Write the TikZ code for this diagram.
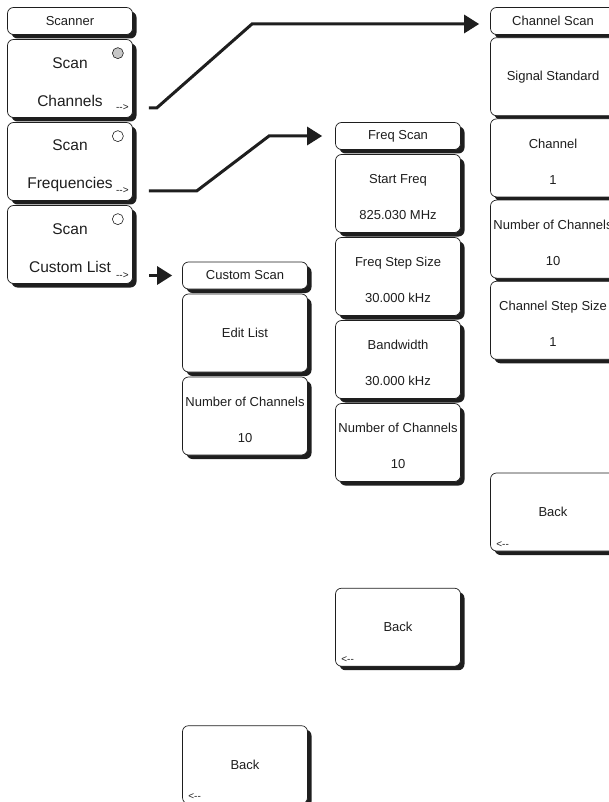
\documentclass[tikz,border=0pt]{standalone}
\usepackage{fontspec}
\setmainfont{Liberation Sans}
\usetikzlibrary{arrows.meta,positioning,shadows}
\definecolor{cink}{HTML}{1E1E1E}
\newcommand\kup{\rule{0pt}{17pt}}
\newcommand\kupbig{\rule{0pt}{19pt}}
\tikzset{
  >={Triangle[length=15pt,width=18pt]},
  softkey/.style={rounded corners=6pt,draw=cink,fill=white,line width=0.7pt,
              minimum width=125pt,minimum height=78pt,inner sep=0pt,align=center,
              text=cink,font=\fontsize{13}{36}\selectfont,
              drop shadow={shadow xshift=4pt,shadow yshift=-4pt,fill=cink,opacity=1}},
  bigkey/.style={softkey,font=\fontsize{15.5}{38}\selectfont},
  ttl/.style={softkey,minimum height=27pt},
  radio/.style={circle,draw=cink,line width=0.6pt,fill=white,minimum size=11pt,inner sep=0pt},
  hint/.style={font=\fontsize{10}{12}\selectfont,text=cink,inner sep=0pt},
  flow/.style={->,line width=3pt,draw=cink},
}

\begin{document}
\begin{tikzpicture}[x=1pt,y=-1pt,node distance=4.3pt]
\useasboundingbox (0,0) rectangle (608,802);

% ================= Scanner menu =================
\node[ttl] (scanner) at (70,21) {Scanner};
\node[bigkey,below=of scanner] (schan) {\kupbig Scan\\Channels};
\node[bigkey,below=of schan] (sfreq) {\kupbig Scan\\Frequencies};
\node[bigkey,below=of sfreq] (slist) {\kupbig Scan\\Custom List};
\node[radio,fill=cink!25] (r1) at ([xshift=-15pt,yshift=-14pt]schan.north east) {};
\node[radio] (r2) at ([xshift=-15pt,yshift=-14pt]sfreq.north east) {};
\node[radio] (r3) at ([xshift=-15pt,yshift=-14pt]slist.north east) {};
\node[hint,anchor=east] (go1) at ([xshift=-4pt,yshift=10pt]schan.south east) {-{}->};
\node[hint,anchor=east] (go2) at ([xshift=-4pt,yshift=10pt]sfreq.south east) {-{}->};
\node[hint,anchor=east] (go3) at ([xshift=-4pt,yshift=8pt]slist.south east) {-{}->};

% ================= Custom Scan =================
\node[ttl] (cscan) at (245,275.5) {Custom Scan};
\node[softkey,below=of cscan] (cedit) {Edit List};
\node[softkey,below=of cedit] (cnum) {\kup Number of Channels\\10};
\node[softkey,below=270pt of cnum] (cback) {Back};
\node[hint,anchor=south west] (cbackgo) at ([xshift=6pt,yshift=4pt]cback.south west) {<-{}-};

% ================= Freq Scan =================
\node[ttl] (fscan) at (398,136) {Freq Scan};
\node[softkey,below=of fscan] (fstart) {\kup Start Freq\\825.030 MHz};
\node[softkey,below=of fstart] (fstep) {\kup Freq Step Size\\30.000 kHz};
\node[softkey,below=of fstep] (fbw) {\kup Bandwidth\\30.000 kHz};
\node[softkey,below=of fbw] (fnum) {\kup Number of Channels\\10};
\node[softkey,below=106pt of fnum] (fback) {Back};
\node[hint,anchor=south west] (fbackgo) at ([xshift=6pt,yshift=4pt]fback.south west) {<-{}-};

% ================= Channel Scan =================
\node[ttl] (chscan) at (553,21) {Channel Scan};
\node[softkey,below=2.5pt of chscan] (chstd) {Signal Standard};
\node[softkey,below=2.5pt of chstd] (chan) {\kup Channel\\1};
\node[softkey,below=2.5pt of chan] (chnum) {\kup Number of Channels\\10};
\node[softkey,below=2.5pt of chnum] (chstep) {\kup Channel Step Size\\1};
\node[softkey,below=113pt of chstep] (chback) {Back};
\node[hint,anchor=south west] (chbackgo) at ([xshift=6pt,yshift=4pt]chback.south west) {<-{}-};

% links
\coordinate (tip1) at ([xshift=-11pt,yshift=-3pt]chscan.west);
\coordinate (tip2) at ([xshift=-13pt]fscan.west);
\coordinate (tip3) at ([xshift=-10pt]cscan.west);
\draw[flow] ([xshift=20pt]go1.east) -- ++(8,0) -- (tip1 -| 252,0) -- (tip1);
\draw[flow] ([xshift=20pt]go2.east) -- ++(48,0) -- (tip2 -| 269,0) -- (tip2);
\draw[flow] ([xshift=-23pt]tip3) -- (tip3);

\end{tikzpicture}
\end{document}
